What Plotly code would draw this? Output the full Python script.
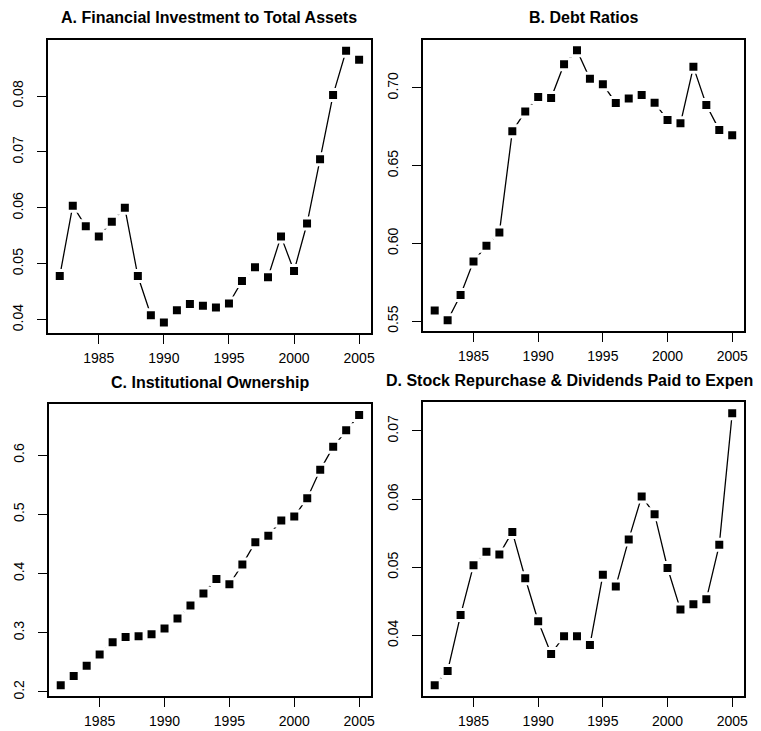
import plotly.graph_objects as go

years = list(range(1982, 2006))

fin_invest = [0.0478, 0.0604, 0.0567, 0.0549, 0.0575, 0.0600, 0.0478, 0.0408,
              0.0395, 0.0417, 0.0428, 0.0425, 0.0422, 0.0429, 0.0469, 0.0494,
              0.0476, 0.0549, 0.0487, 0.0572, 0.0687, 0.0802, 0.0881, 0.0865]

debt_ratio = [0.5570, 0.5506, 0.5669, 0.5885, 0.5986, 0.6070, 0.6721, 0.6848,
              0.6941, 0.6935, 0.7152, 0.7241, 0.7059, 0.7023, 0.6903, 0.6932,
              0.6954, 0.6905, 0.6793, 0.6772, 0.7135, 0.6890, 0.6730, 0.6696]

inst_own = [0.2111, 0.2267, 0.2444, 0.2633, 0.2839, 0.2928, 0.2939, 0.2972,
            0.3072, 0.3239, 0.3461, 0.3661, 0.3906, 0.3817, 0.4150, 0.4528,
            0.4639, 0.4894, 0.4961, 0.5272, 0.5750, 0.6139, 0.6417, 0.6678]

repurchase = [0.0327, 0.0348, 0.0430, 0.0503, 0.0523, 0.0519, 0.0552, 0.0484,
              0.0421, 0.0373, 0.0399, 0.0399, 0.0386, 0.0489, 0.0472, 0.0541,
              0.0604, 0.0578, 0.0499, 0.0438, 0.0446, 0.0453, 0.0533, 0.0726]

titles = ["A. Financial Investment to Total Assets",
          "B. Debt Ratios",
          "C. Institutional Ownership",
          "D. Stock Repurchase & Dividends Paid to Expenses"]

x_ticks = [1985, 1990, 1995, 2000, 2005]
y_ticks = [[0.04, 0.05, 0.06, 0.07, 0.08],
           [0.55, 0.60, 0.65, 0.70],
           [0.2, 0.3, 0.4, 0.5, 0.6],
           [0.04, 0.05, 0.06, 0.07]]
y_fmt = [".2f", ".2f", ".1f", ".2f"]

series = [fin_invest, debt_ratio, inst_own, repurchase]

W, H = 761, 731
# panel boxes in pixels: (left, right, top, bottom)
boxes = [(40, 365, 32, 326.7),
         (417, 740, 31.7, 324.5),
         (41, 365, 397.7, 691),
         (417, 740, 396, 691)]

fig = go.Figure()
font_tick = dict(family="Liberation Sans, Arial, sans-serif", size=14, color="black")

def r_range(vals):
    lo, hi = min(vals), max(vals)
    e = (hi - lo) * 0.04
    return [lo - e, hi + e]

xr = r_range(years)

for i, (vals, box) in enumerate(zip(series, boxes)):
    n = "" if i == 0 else str(i + 1)
    l, r, t, b = box
    fig.add_trace(go.Scatter(
        x=years, y=vals, mode="lines+markers",
        line=dict(color="black", width=1.3),
        marker=dict(symbol="square", size=11, color="black",
                    line=dict(color="white", width=3)),
        xaxis="x" + n, yaxis="y" + n, showlegend=False, cliponaxis=False))
    fig.update_layout(**{
        "xaxis" + n: dict(domain=[l / W, r / W], range=xr, anchor="y" + n,
                          tickvals=x_ticks, ticks="outside", ticklen=9, tickwidth=1.3,
                          tickcolor="black", showline=True, mirror=True,
                          linecolor="black", linewidth=1.5, showgrid=False,
                          zeroline=False, tickfont=font_tick, ticklabelstandoff=2),
        "yaxis" + n: dict(domain=[1 - b / H, 1 - t / H], range=r_range(vals),
                          anchor="x" + n, tickvals=y_ticks[i], tickformat=y_fmt[i],
                          ticks="outside", ticklen=9, tickwidth=1.3, tickcolor="black",
                          showline=True, mirror=True, linecolor="black", linewidth=1.5,
                          showgrid=False, zeroline=False, tickangle=-90,
                          tickfont=font_tick, ticklabelstandoff=8),
    })
    fig.add_annotation(text="<b>" + titles[i] + "</b>", xref="paper", yref="paper",
                       x=(l + r) / 2 / W, y=1 - (t - 22) / H, xanchor="center",
                       yanchor="middle", showarrow=False,
                       font=dict(family="Liberation Sans, Arial, sans-serif", size=16,
                                 color="black"))

fig.update_layout(width=W, height=H, margin=dict(l=0, r=0, t=0, b=0),
                  paper_bgcolor="white", plot_bgcolor="white")

fig.write_html("out.html")
